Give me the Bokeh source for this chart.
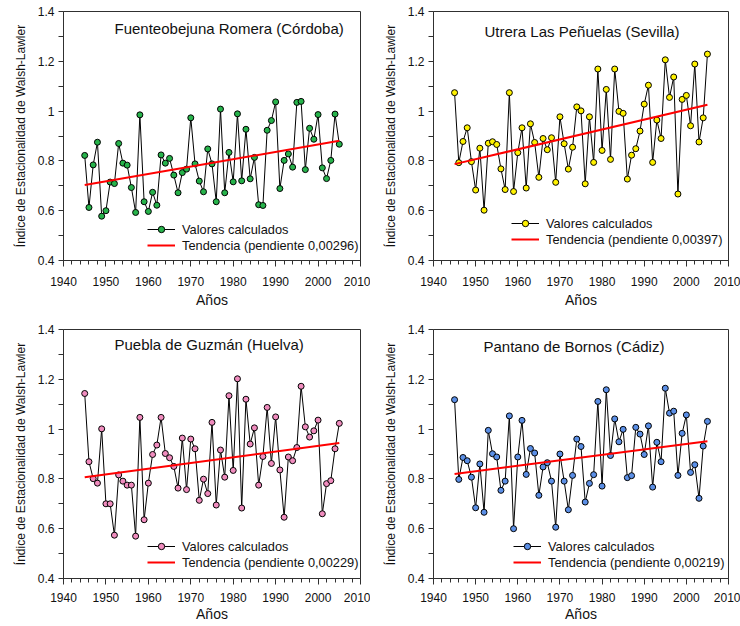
from bokeh.plotting import figure
from bokeh.layouts import column, row
from bokeh.models import Range1d, FixedTicker, Label, Legend, LegendItem
from bokeh.embed import file_html
from bokeh.resources import INLINE

years = list(range(1945, 2006))

fuente = [0.822, 0.613, 0.784, 0.875, 0.578, 0.600, 0.715, 0.709, 0.870, 0.791,
          0.783, 0.693, 0.593, 0.985, 0.636, 0.597, 0.674, 0.622, 0.824, 0.791,
          0.810, 0.743, 0.672, 0.753, 0.767, 0.973, 0.788, 0.719, 0.676, 0.848,
          0.788, 0.636, 1.008, 0.672, 0.834, 0.716, 0.989, 0.720, 0.927, 0.728,
          0.814, 0.624, 0.621, 0.923, 0.962, 1.037, 0.689, 0.802, 0.828, 0.775,
          1.035, 1.039, 0.765, 0.931, 0.887, 0.986, 0.772, 0.729, 0.802, 0.988,
          0.867]

utrera = [1.074, 0.793, 0.878, 0.933, 0.797, 0.683, 0.851, 0.602, 0.871, 0.877,
          0.866, 0.768, 0.685, 1.074, 0.677, 0.833, 0.933, 0.691, 0.949, 0.874,
          0.734, 0.890, 0.845, 0.893, 0.714, 0.977, 0.869, 0.767, 0.855, 1.017,
          1.001, 0.708, 0.977, 0.794, 1.169, 0.842, 1.087, 0.806, 1.169, 0.999,
          0.991, 0.727, 0.823, 0.849, 0.920, 1.028, 1.104, 0.794, 0.964, 0.890,
          1.206, 1.055, 1.137, 0.667, 1.047, 1.063, 0.941, 1.189, 0.876, 0.973,
          1.229]

puebla = [1.143, 0.869, 0.801, 0.783, 1.001, 0.700, 0.700, 0.574, 0.816, 0.791,
          0.775, 0.775, 0.570, 1.047, 0.636, 0.783, 0.898, 0.936, 1.047, 0.902,
          0.885, 0.850, 0.763, 0.964, 0.757, 0.960, 0.921, 0.714, 0.799, 0.741,
          1.027, 0.695, 0.916, 0.807, 1.134, 0.834, 1.202, 0.683, 1.120, 0.940,
          1.005, 0.775, 0.890, 1.087, 0.862, 1.049, 0.836, 0.646, 0.888, 0.873,
          0.926, 1.172, 1.009, 0.968, 0.993, 1.036, 0.660, 0.781, 0.793, 0.921,
          1.023]

bornos = [1.118, 0.798, 0.886, 0.873, 0.807, 0.684, 0.860, 0.666, 0.995, 0.901,
          0.888, 0.754, 0.791, 1.053, 0.600, 0.888, 1.035, 0.818, 0.922, 0.904,
          0.734, 0.848, 0.865, 0.791, 0.606, 0.900, 0.791, 0.676, 0.814, 0.960,
          0.930, 0.707, 0.782, 0.817, 1.111, 0.771, 1.158, 0.894, 1.041, 0.949,
          0.999, 0.805, 0.813, 1.007, 0.980, 0.898, 1.013, 0.767, 0.947, 0.869,
          1.164, 1.064, 1.072, 0.814, 0.983, 1.057, 0.826, 0.857, 0.722, 0.932,
          1.031]

titles = ["Fuenteobejuna Romera (Córdoba)", "Utrera Las Peñuelas (Sevilla)",
          "Puebla de Guzmán (Huelva)", "Pantano de Bornos (Cádiz)"]
slopes = [0.00296, 0.00397, 0.00229, 0.00219]
slope_labels = ["0,00296", "0,00397", "0,00229", "0,00219"]
trend_start = [0.703, 0.787, 0.807, 0.820]
trend_years = [1945, 2005]
fills = ["#27B34B", "#FFF200", "#F08CBE", "#5B8FE6"]
series = [fuente, utrera, puebla, bornos]

y_ticks = [0.4, 0.6, 0.8, 1, 1.2, 1.4]
y_tick_labels = ["0.4", "0.6", "0.8", "1", "1.2", "1.4"]
y_minor = [0.5, 0.7, 0.9, 1.1, 1.3]
x_ticks = [1940, 1950, 1960, 1970, 1980, 1990, 2000, 2010]
x_minor = list(range(1940, 2011, 2))

FONT = "Liberation Sans"
AX = "#303030"

# layout per panel: (width, height, left, right, top, bottom)
geo = [(370, 318, 63, 10, 11, 57),
       (370, 318, 63, 12, 10, 58),
       (370, 306, 63, 10, 11, 46),
       (370, 306, 63, 12, 11, 46)]
title_pos = [(51, 232), (51, 229), (51, 234), (50, 232)]
legend_pos = [(84, 7), (78, 13), (84, 8), (80, 8)]


def make(i):
    w, h, bl, br, bt, bb = geo[i]
    p = figure(width=w, height=h, output_backend="svg", toolbar_location=None,
               x_range=Range1d(1940, 2010), y_range=Range1d(0.4, 1.4),
               min_border_left=bl, min_border_right=br,
               min_border_top=bt, min_border_bottom=bb)
    p.xgrid.visible = False
    p.ygrid.visible = False
    p.outline_line_color = AX
    p.outline_line_width = 1
    p.background_fill_color = "white"
    p.border_fill_color = "white"

    p.xaxis.ticker = FixedTicker(ticks=x_ticks, minor_ticks=x_minor)
    p.yaxis.ticker = FixedTicker(ticks=y_ticks, minor_ticks=y_minor)
    p.yaxis.major_label_overrides = dict(zip(y_ticks, y_tick_labels))
    for ax in (p.xaxis[0], p.yaxis[0]):
        ax.axis_line_color = AX
        ax.major_tick_line_color = AX
        ax.minor_tick_line_color = AX
        ax.major_tick_in = 0
        ax.minor_tick_in = 0
        ax.major_label_text_font = FONT
        ax.major_label_text_font_size = "12px"
        ax.major_label_text_color = "#111111"
        ax.axis_label_text_font = FONT
        ax.axis_label_text_font_style = "normal"
        ax.axis_label_text_color = "#111111"
    p.xaxis.major_tick_out = 6
    p.xaxis.minor_tick_out = 4
    p.yaxis.major_tick_out = 5
    p.yaxis.minor_tick_out = 5
    p.xaxis.axis_label = "Años"
    p.xaxis.axis_label_text_font_size = "14px"
    p.yaxis.axis_label = "Índice de Estacionalidad de Walsh-Lawler"
    p.yaxis.axis_label_text_font_size = "12px"
    p.yaxis.major_label_standoff = 4
    p.yaxis.axis_label_standoff = 7
    if i < 2:
        p.xaxis.major_label_standoff = 10
        p.xaxis.axis_label_standoff = 3
    else:
        p.xaxis.major_label_standoff = 8
        p.xaxis.axis_label_standoff = 1

    ys = series[i]
    ln = p.line(years, ys, line_color="black", line_width=1)
    sc = p.scatter(years, ys, size=6, fill_color=fills[i], line_color="black",
                   line_width=1)
    ty = [trend_start[i] + slopes[i] * (x - trend_years[0]) for x in trend_years]
    tr = p.line(trend_years, ty, line_color="#FF0000", line_width=2)

    leg = Legend(items=[LegendItem(label="Valores calculados", renderers=[ln, sc]),
                        LegendItem(label="Tendencia (pendiente " + slope_labels[i] + ")",
                                   renderers=[tr])],
                 location=legend_pos[i], border_line_color=None,
                 background_fill_alpha=0, padding=0, margin=0, spacing=-2,
                 glyph_width=28, glyph_height=16, label_standoff=7,
                 label_text_font=FONT, label_text_font_size="12.8px",
                 label_text_color="#111111", label_height=16)
    p.add_layout(leg, "center")

    tx, tyy = title_pos[i]
    p.add_layout(Label(x=tx, y=tyy, x_units="screen", y_units="screen",
                       text=titles[i], text_font=FONT, text_font_size="15px",
                       text_baseline="middle", text_align="left",
                       text_color="#111111"))
    return p


plots = [make(i) for i in range(4)]
layout = column(row(plots[0], plots[1]), row(plots[2], plots[3]))
open("out.html", "w").write(file_html(layout, INLINE))
